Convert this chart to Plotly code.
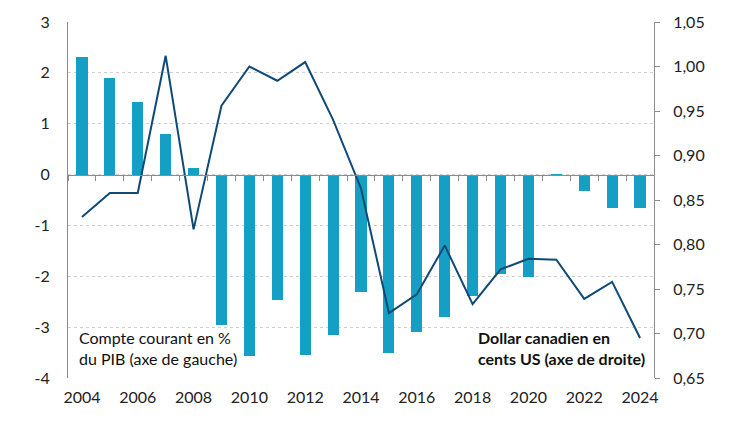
import plotly.graph_objects as go

years = list(range(2004, 2025))
compte_courant = [2.32, 1.90, 1.43, 0.80, 0.12, -2.96, -3.57, -2.46, -3.55, -3.16,
                  -2.30, -3.50, -3.10, -2.81, -2.39, -1.96, -2.02, -0.02, -0.33, -0.66, -0.66]
dollar_cad = [0.831, 0.858, 0.858, 1.012, 0.817, 0.956, 1.000, 0.984, 1.005, 0.940,
              0.863, 0.723, 0.744, 0.799, 0.733, 0.772, 0.784, 0.783, 0.739, 0.758, 0.695]
left_ticks = [3, 2, 1, 0, -1, -2, -3, -4]
left_labels = ["3", "2", "1", "0", "-1", "-2", "-3", "-4"]
right_ticks = [0.65, 0.70, 0.75, 0.80, 0.85, 0.90, 0.95, 1.00, 1.05]
year_ticks = list(range(2004, 2025, 2))
boundaries = [y - 0.5 for y in years] + [years[-1] + 0.5]

FONT = "Lato"
GRAY = "#8c8c8c"

fig = go.Figure()
fig.add_trace(go.Bar(x=years, y=compte_courant, xaxis="x", yaxis="y",
                     marker=dict(color="#159fc4", line=dict(width=0)), width=0.4,
                     showlegend=False))
fig.add_trace(go.Scatter(x=years, y=dollar_cad, xaxis="x2", yaxis="y2", mode="lines",
                         line=dict(color="#0e4a78", width=2), showlegend=False))

yr = [-4, 3]
fig.update_layout(
    width=742, height=414,
    margin=dict(l=60, r=96, t=14, b=44),
    paper_bgcolor="white", plot_bgcolor="white",
    separators=", ",
    font=dict(family=FONT, size=16, color="#222222"),
    bargap=0,
    xaxis=dict(range=[2003.5, 2024.5], tickvals=year_ticks, showgrid=False,
               showline=False, zeroline=False, ticks="", ticklabelstandoff=8,
               automargin=False),
    xaxis2=dict(range=[2003.5, 2024.5], overlaying="x", anchor="free",
                position=(0 - yr[0]) / (yr[1] - yr[0]),
                tickvals=boundaries, showticklabels=False, ticks="outside",
                ticklen=5, tickcolor=GRAY, showline=True, linecolor=GRAY,
                linewidth=1, showgrid=False, zeroline=False, automargin=False),
    yaxis=dict(range=yr, tickvals=left_ticks, ticktext=left_labels, showgrid=True,
               gridcolor="#cfcfcf", griddash="dot", gridwidth=1, zeroline=False,
               showline=True, linecolor=GRAY, linewidth=1, ticks="",
               ticklabelstandoff=14, automargin=False),
    yaxis2=dict(range=[0.65, 1.05], tickvals=right_ticks, tickformat=".2f",
                overlaying="y", side="right", anchor="x", showgrid=False,
                zeroline=False, showline=True, linecolor=GRAY, linewidth=1,
                ticks="outside", ticklen=5, tickcolor=GRAY, ticklabelstandoff=10,
                automargin=False),
    annotations=[
        dict(text="Compte courant en %<br>du PIB (axe de gauche)", xref="paper", yref="paper",
             x=0.015, y=0.145, xanchor="left", yanchor="top", align="left",
             showarrow=False, font=dict(family=FONT, size=16, color="#111111")),
        dict(text="<b>Dollar canadien en<br>cents US (axe de droite)</b>", xref="paper", yref="paper",
             x=0.988, y=0.145, xanchor="right", yanchor="top", align="left",
             showarrow=False, font=dict(family=FONT, size=16, color="#111111")),
    ],
)

fig.write_html("out.html")
